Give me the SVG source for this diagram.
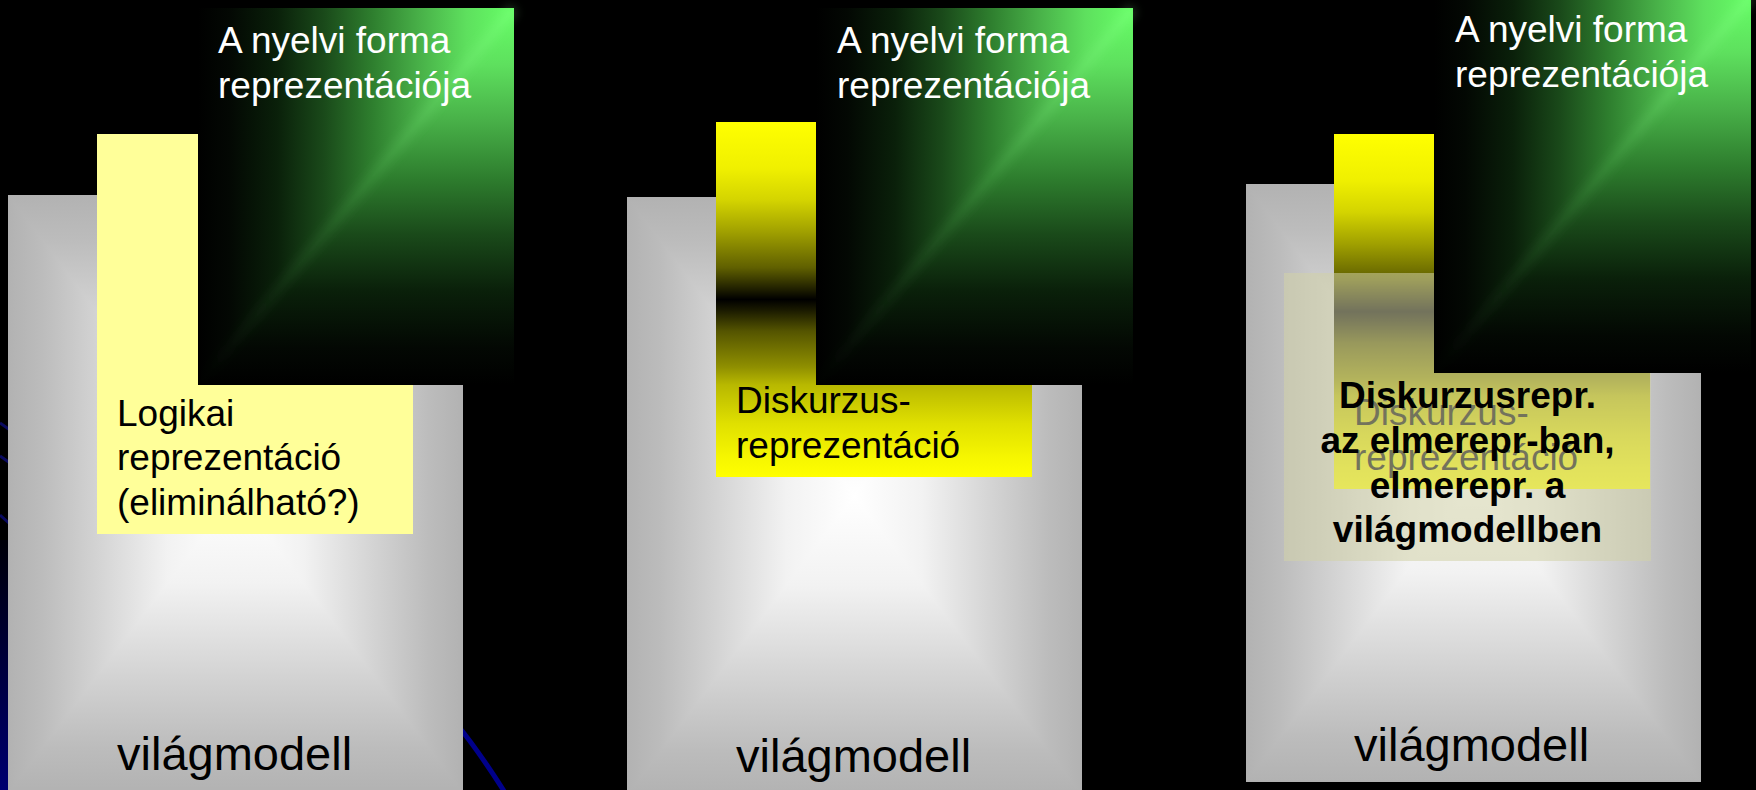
<svg xmlns="http://www.w3.org/2000/svg" width="1756" height="790" viewBox="0 0 1756 790">
<defs>
<style>
.t{font-family:"Liberation Sans",Arial,sans-serif;font-size:37px;fill:#000}
.w{font-family:"Liberation Sans",Arial,sans-serif;font-size:37px;fill:#fff}
.b{font-family:"Liberation Sans",Arial,sans-serif;font-size:37px;font-weight:bold;fill:#000;text-anchor:middle}
.vm{font-family:"Liberation Sans",Arial,sans-serif;font-size:47px;fill:#000}
.ghost{font-family:"Liberation Sans",Arial,sans-serif;font-size:37px;fill:#000}
</style>
<linearGradient id="grayH" x1="0.5" y1="0" x2="1" y2="0" spreadMethod="reflect">
<stop offset="0" stop-color="#ffffff"/><stop offset="0.3" stop-color="#f2f2f2"/><stop offset="0.6" stop-color="#d4d4d4"/><stop offset="0.85" stop-color="#bcbcbc"/><stop offset="1" stop-color="#b2b2b2"/>
</linearGradient>
<linearGradient id="grayV" x1="0" y1="0.5" x2="0" y2="1" spreadMethod="reflect">
<stop offset="0" stop-color="#ffffff"/><stop offset="0.3" stop-color="#f2f2f2"/><stop offset="0.6" stop-color="#d4d4d4"/><stop offset="0.85" stop-color="#bcbcbc"/><stop offset="1" stop-color="#b2b2b2"/>
</linearGradient>
<linearGradient id="greenH" x1="1" y1="0" x2="0" y2="0">
<stop offset="0" stop-color="#66ff66"/><stop offset="0.15" stop-color="#5ee05e"/><stop offset="0.3" stop-color="#48b048"/><stop offset="0.45" stop-color="#2e7e2e"/><stop offset="0.6" stop-color="#1a4a1a"/><stop offset="0.75" stop-color="#0a200a"/><stop offset="0.9" stop-color="#030803"/><stop offset="1" stop-color="#000"/>
</linearGradient>
<linearGradient id="greenV" x1="0" y1="0" x2="0" y2="1">
<stop offset="0" stop-color="#66ff66"/><stop offset="0.15" stop-color="#5ee05e"/><stop offset="0.3" stop-color="#48b048"/><stop offset="0.45" stop-color="#2e7e2e"/><stop offset="0.6" stop-color="#1a4a1a"/><stop offset="0.75" stop-color="#0a200a"/><stop offset="0.9" stop-color="#030803"/><stop offset="1" stop-color="#000"/>
</linearGradient>
<linearGradient id="seam" x1="1" y1="0" x2="0" y2="1">
<stop offset="0" stop-color="#99ff99" stop-opacity="0.2"/><stop offset="0.6" stop-color="#66cc66" stop-opacity="0.1"/><stop offset="1" stop-color="#66cc66" stop-opacity="0"/>
</linearGradient>
<filter id="blur" x="-0.2" y="-0.2" width="1.4" height="1.4"><feGaussianBlur stdDeviation="5"/></filter>
<linearGradient id="yel" x1="0" y1="0" x2="0" y2="1">
<stop offset="0" stop-color="#ffff00"/><stop offset="0.13" stop-color="#f0f000"/><stop offset="0.22" stop-color="#d4d400"/><stop offset="0.31" stop-color="#a0a000"/><stop offset="0.41" stop-color="#606000"/><stop offset="0.47" stop-color="#202000"/><stop offset="0.5" stop-color="#000000"/><stop offset="0.53" stop-color="#1a1a00"/><stop offset="0.59" stop-color="#555500"/><stop offset="0.69" stop-color="#8f8f00"/><stop offset="0.74" stop-color="#b8b800"/><stop offset="0.85" stop-color="#e0e000"/><stop offset="0.94" stop-color="#f5f500"/><stop offset="1" stop-color="#ffff00"/>
</linearGradient>
<linearGradient id="navy" x1="0" y1="0" x2="0" y2="1">
<stop offset="0" stop-color="#000008"/><stop offset="1" stop-color="#000070"/>
</linearGradient>
</defs>
<rect width="1756" height="790" fill="#000"/>
<g id="background">
<rect x="0" y="540" width="10" height="250" fill="url(#navy)"/>
<path d="M0,423 L10,430 M0,456 L10,463 M0,515 L10,524" stroke="#0a0a60" stroke-width="3" fill="none"/>
<path d="M455,722 Q478,750 504,791" stroke="#00008b" stroke-width="5" fill="none"/>
</g>
<g id="connectors"></g>
<g id="panel1">
<g id="p1-vilagmodell">
<rect x="8" y="195" width="455" height="598" fill="url(#grayH)"/>
<path d="M8,195 H463 L235.5,494 Z M8,793 H463 L235.5,494 Z" fill="url(#grayV)"/>
<text class="vm" x="117" y="770">világmodell</text>
</g>
<g id="p1-logikai">
<rect x="97" y="134" width="316" height="400" fill="#ffff99"/>
<text class="t" x="117" y="426">Logikai</text>
<text class="t" x="117" y="470">reprezentáció</text>
<text class="t" x="117" y="515">(eliminálható?)</text>
</g>
<g id="p1-nyelvi">
<rect x="198" y="8" width="316" height="377" fill="url(#greenH)"/>
<path d="M514,8 L514,385 L198,385 Z" fill="url(#greenV)"/>
<path d="M514,8 L198,385" stroke="url(#seam)" stroke-width="12" fill="none" filter="url(#blur)"/>
<text class="w" x="218" y="53">A nyelvi forma</text>
<text class="w" x="218" y="98">reprezentációja</text>
</g>
</g>
<g id="panel2">
<g id="p2-vilagmodell">
<rect x="627" y="197" width="455" height="598" fill="url(#grayH)"/>
<path d="M627,197 H1082 L854.5,496 Z M627,795 H1082 L854.5,496 Z" fill="url(#grayV)"/>
<text class="vm" x="736" y="772">világmodell</text>
</g>
<g id="p2-diskurzus">
<rect x="716" y="122" width="316" height="355" fill="url(#yel)"/>
<text class="t" x="736" y="413">Diskurzus-</text>
<text class="t" x="736" y="458">reprezentáció</text>
</g>
<g id="p2-nyelvi">
<rect x="816" y="8" width="317" height="377" fill="url(#greenH)"/>
<path d="M1133,8 L1133,385 L816,385 Z" fill="url(#greenV)"/>
<path d="M1133,8 L816,385" stroke="url(#seam)" stroke-width="12" fill="none" filter="url(#blur)"/>
<text class="w" x="837" y="53">A nyelvi forma</text>
<text class="w" x="837" y="98">reprezentációja</text>
</g>
</g>
<g id="panel3">
<g id="p3-vilagmodell">
<rect x="1246" y="184" width="455" height="598" fill="url(#grayH)"/>
<path d="M1246,184 H1701 L1473.5,483 Z M1246,782 H1701 L1473.5,483 Z" fill="url(#grayV)"/>
<text class="vm" x="1354" y="761">világmodell</text>
</g>
<g id="p3-diskurzus">
<rect x="1334" y="134" width="316" height="355" fill="url(#yel)"/>
<text class="ghost" x="1354" y="425">Diskurzus-</text>
<text class="ghost" x="1354" y="470">reprezentáció</text>
</g>
<g id="p3-elmerepr">
<rect x="1284" y="273" width="367" height="288" fill="#d2d2a8" fill-opacity="0.55"/>
</g>
<g id="p3-nyelvi">
<rect x="1434" y="-4" width="317" height="377" fill="url(#greenH)"/>
<path d="M1751,-4 L1751,373 L1434,373 Z" fill="url(#greenV)"/>
<path d="M1751,-4 L1434,373" stroke="url(#seam)" stroke-width="12" fill="none" filter="url(#blur)"/>
<text class="w" x="1455" y="42">A nyelvi forma</text>
<text class="w" x="1455" y="87">reprezentációja</text>
</g>
<g id="p3-label">
<text class="b" x="1467.5" y="408">Diskurzusrepr.</text>
<text class="b" x="1467.5" y="453">az elmerepr-ban,</text>
<text class="b" x="1467.5" y="498">elmerepr. a</text>
<text class="b" x="1467.5" y="542">világmodellben</text>
</g>
</g>
</svg>
